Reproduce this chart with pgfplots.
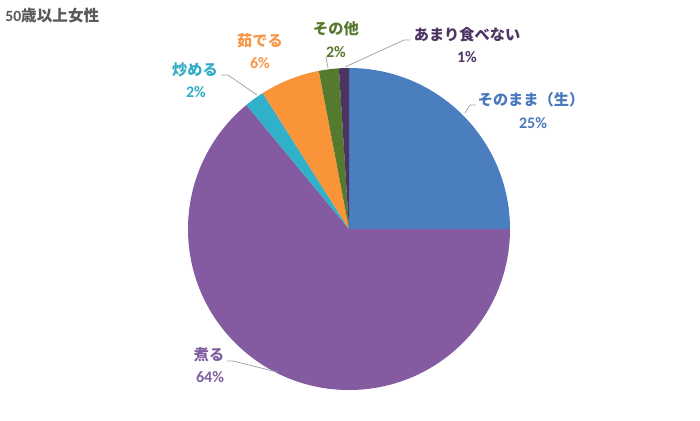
\documentclass[border=0pt]{standalone}
\usepackage{pgfplots}
\pgfplotsset{compat=1.18}
\usepackage{fontspec}
\setmainfont{Carlito}[BoldFont={Carlito Bold}]
\newfontfamily\jp{Noto Sans CJK JP}

\definecolor{cBlue}{HTML}{4A7EBF}
\definecolor{cPurple}{HTML}{845BA0}
\definecolor{cTeal}{HTML}{31B0CA}
\definecolor{cOrange}{HTML}{F99538}
\definecolor{cGreen}{HTML}{557A2E}
\definecolor{cDark}{HTML}{4C3462}
\definecolor{tBlue}{HTML}{4A78BD}
\definecolor{tPurple}{HTML}{7F5FA0}
\definecolor{tTeal}{HTML}{31ACC6}
\definecolor{tOrange}{HTML}{F79646}
\definecolor{tGreen}{HTML}{56782C}
\definecolor{tDark}{HTML}{4E3462}
\definecolor{leader}{HTML}{A6A6A6}
\definecolor{titlegray}{HTML}{595959}

\begin{document}
\begin{tikzpicture}
    \begin{axis}[
        at={(174.5pt,-114.5pt)},
        anchor=center,
        scale only axis,
        width=161pt,
        height=161pt,
        xmin=-1, xmax=1,
        ymin=-1, ymax=1,
        hide axis,
        clip=false,
    ]
    % slices clockwise from 12 o'clock: centre, rim start, arc
    % そのまま（生） 25%
    \addplot[draw=none,fill=cBlue] coordinates {(0,0) (0,1)}
        arc[start angle=90, end angle=0, radius=80.5pt] -- cycle;
    % 煮る 64%
    \addplot[draw=none,fill=cPurple] coordinates {(0,0) (1,0)}
        arc[start angle=0, end angle=-230.4, radius=80.5pt] -- cycle;
    % 炒める 2%
    \addplot[draw=none,fill=cTeal] coordinates {(0,0) (-0.6374,0.7705)}
        arc[start angle=-230.4, end angle=-237.6, radius=80.5pt] -- cycle;
    % 茹でる 6%
    \addplot[draw=none,fill=cOrange] coordinates {(0,0) (-0.5358,0.8443)}
        arc[start angle=-237.6, end angle=-259.2, radius=80.5pt] -- cycle;
    % その他 2%
    \addplot[draw=none,fill=cGreen] coordinates {(0,0) (-0.1874,0.9823)}
        arc[start angle=-259.2, end angle=-266.4, radius=80.5pt] -- cycle;
    % あまり食べない 1%
    \addplot[draw=none,fill=cDark] coordinates {(0,0) (-0.0628,0.9980)}
        arc[start angle=-266.4, end angle=-270, radius=80.5pt] -- cycle;
    \end{axis}

    \begin{scope}[x=0.5pt,y=-0.5pt,
        lbl/.style={font=\bfseries\fontsize{7.6}{9}\selectfont, inner sep=0pt},
        num/.style={font=\bfseries\fontsize{8}{9}\selectfont, inner sep=0pt}]
    \path[use as bounding box] (0,0) rectangle (700,420);

    \node[anchor=west, inner sep=0pt, text=titlegray,
          font=\bfseries\fontsize{7.8}{9}\selectfont] at (5,16) {50{\jp 歳以上女性}};

    % leader lines
    \draw[leader, line width=0.4pt] (465,113) -- (470,105) -- (476,105);
    \draw[leader, line width=0.4pt] (221,75) -- (228,75) -- (257,95);
    \draw[leader, line width=0.4pt] (326,57) -- (328,68);
    \draw[leader, line width=0.4pt] (410,40) -- (404,40) -- (345,67);
    \draw[leader, line width=0.4pt] (227,361) -- (233,361) -- (277,372);

    % data labels
    \node[lbl, text=tBlue] at (531,100) {\jp そのまま（生）};
    \node[num, text=tBlue] at (533,123) {25\%};
    \node[lbl, text=tDark] at (467,35) {\jp あまり食べない};
    \node[num, text=tDark] at (467,57) {1\%};
    \node[lbl, text=tGreen] at (336,29) {\jp その他};
    \node[num, text=tGreen] at (336,52) {2\%};
    \node[lbl, text=tOrange] at (260,41) {\jp 茹でる};
    \node[num, text=tOrange] at (260,63) {6\%};
    \node[lbl, text=tTeal] at (195,70) {\jp 炒める};
    \node[num, text=tTeal] at (196,92) {2\%};
    \node[lbl, text=tPurple] at (209,355) {\jp 煮る};
    \node[num, text=tPurple] at (210,377) {64\%};
    \end{scope}
\end{tikzpicture}
\end{document}
